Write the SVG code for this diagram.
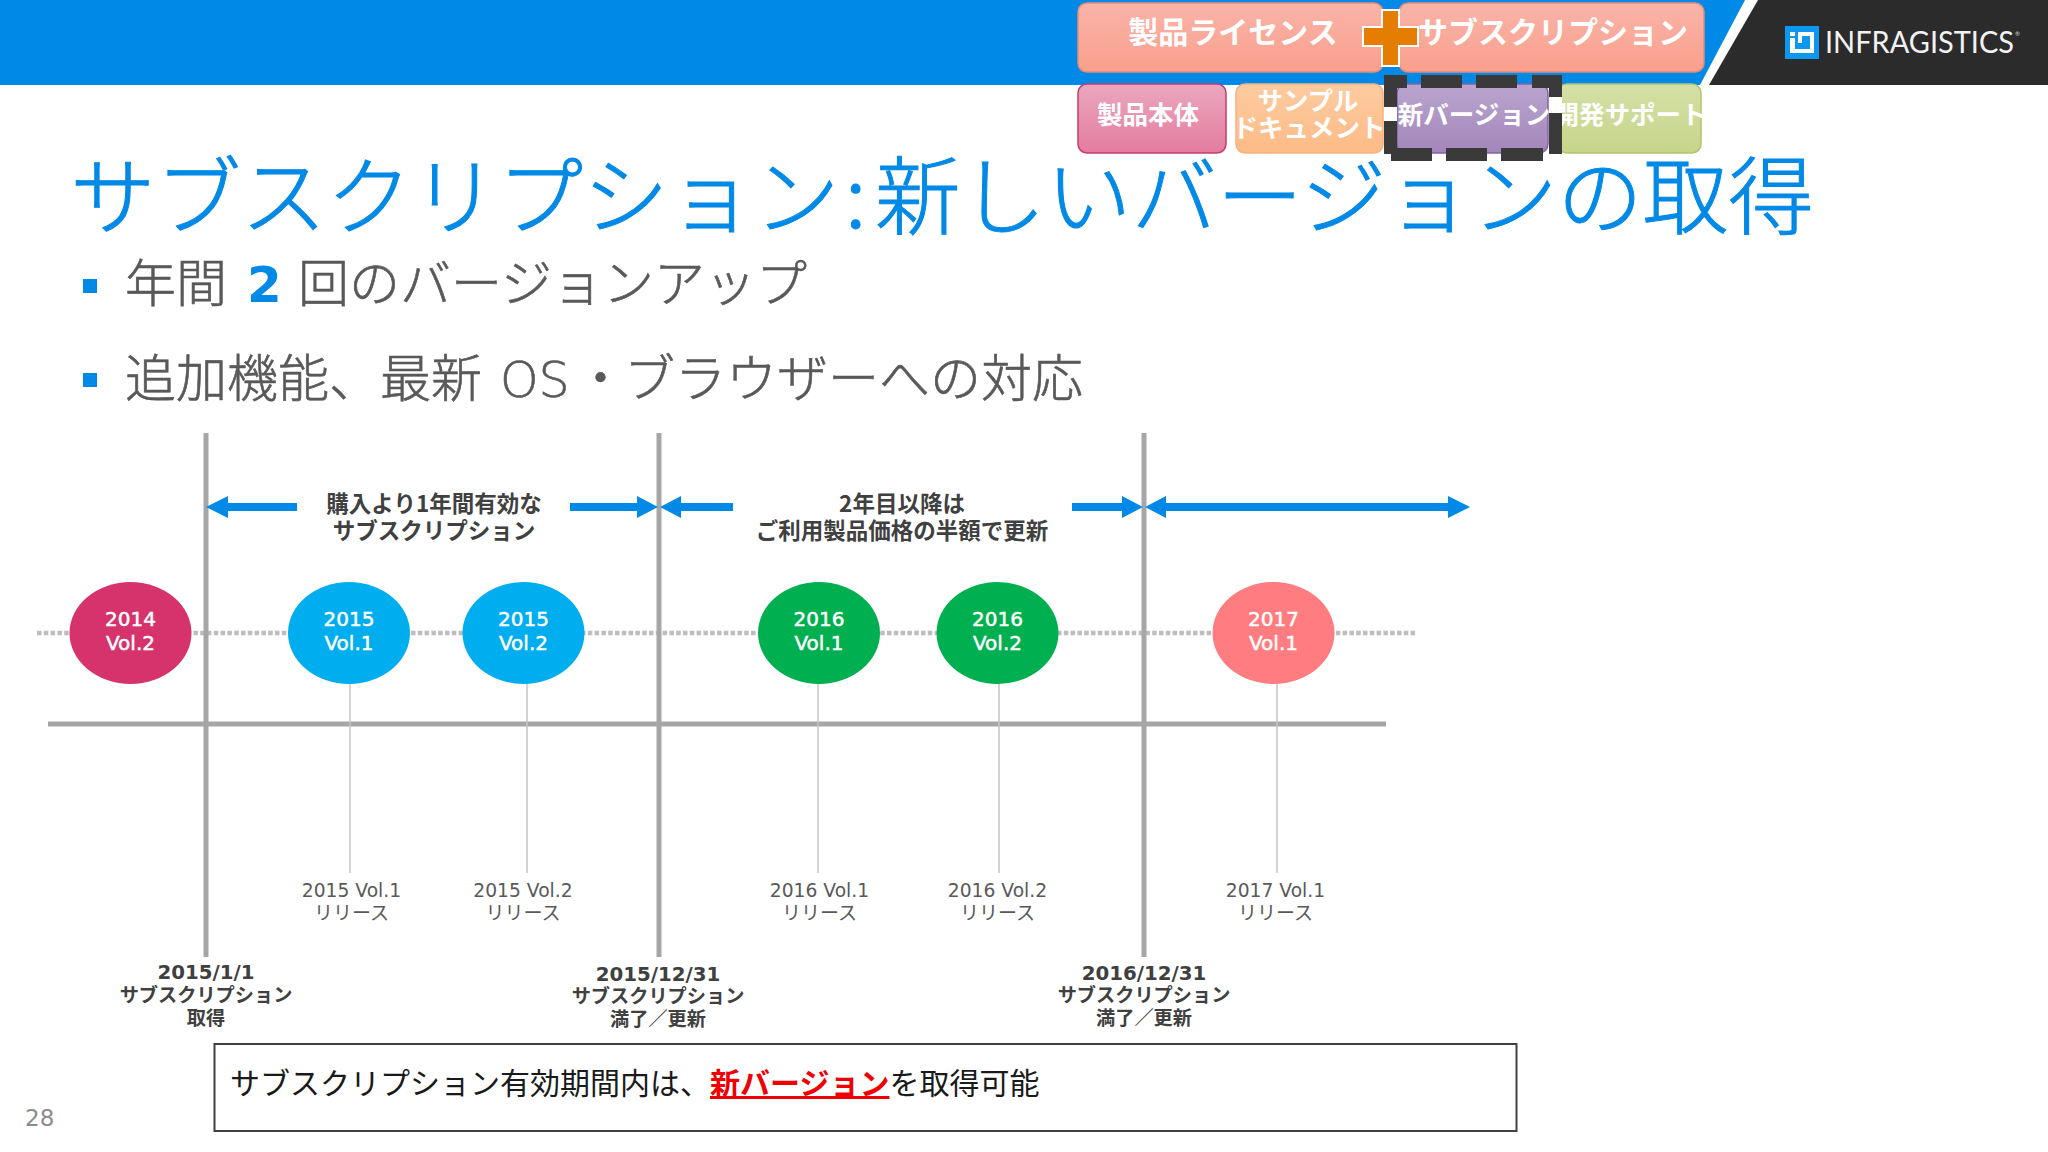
<svg xmlns="http://www.w3.org/2000/svg" width="2048" height="1152" viewBox="0 0 2048 1152">
<style>
.jp{font-family:"Noto Sans CJK JP","Noto Sans",sans-serif}
.lat{font-family:"DejaVu Sans","Noto Sans CJK JP",sans-serif}
.c{text-anchor:middle}
.w{fill:#fff;font-weight:700}
.box{stroke-width:1.5}
.dk{fill:#3a3a3a}
.gray{stroke:#a6a6a6;stroke-width:5;fill:none}
.thin{stroke:#c4c4c4;stroke-width:1.5;fill:none}
.arr{fill:#0089e6}
.el{font-size:20px;fill:#fff;stroke:#fff;stroke-width:.5}
.rel{font-size:18.7px;fill:#595959}
.relj{font-size:19px;fill:#595959}
.lab{font-size:22.5px;font-weight:700;fill:#404040}
.dt{font-size:19.8px;font-weight:700;fill:#404040}
.dj{font-size:19.2px;font-weight:700;fill:#404040}
.bul{fill:#0089e6}
.body{font-size:51px;fill:#595959;stroke:#595959;stroke-width:.6;font-weight:300}
</style>
<defs>
<linearGradient id="gS" x1="0" y1="0" x2="0" y2="1"><stop offset="0" stop-color="#f9b4a8"/><stop offset="1" stop-color="#fa9f8d"/></linearGradient>
<linearGradient id="gP" x1="0" y1="0" x2="0" y2="1"><stop offset="0" stop-color="#eba7bd"/><stop offset="1" stop-color="#e47c9f"/></linearGradient>
<linearGradient id="gO" x1="0" y1="0" x2="0" y2="1"><stop offset="0" stop-color="#fdcba0"/><stop offset="1" stop-color="#fdbb87"/></linearGradient>
<linearGradient id="gV" x1="0" y1="0" x2="0" y2="1"><stop offset="0" stop-color="#baa5cf"/><stop offset="1" stop-color="#a386bb"/></linearGradient>
<linearGradient id="gG" x1="0" y1="0" x2="0" y2="1"><stop offset="0" stop-color="#d5e0a7"/><stop offset="1" stop-color="#c7d589"/></linearGradient>
</defs>
<rect width="2048" height="1152" fill="#fff"/>

<g id="header">
<polygon points="0,0 1745,0 1700,85 0,85" fill="#0089e6"/>
<polygon points="1758,0 2048,0 2048,85 1709,85" fill="#2b2b2b"/>
<rect x="1785" y="26" width="34" height="33" fill="#0d98f0"/>
<rect x="1790" y="32" width="5" height="4" fill="#fff"/>
<rect x="1790" y="38" width="5" height="15" fill="#fff"/>
<rect x="1790" y="49" width="24" height="4" fill="#fff"/>
<rect x="1810" y="32" width="4" height="21" fill="#fff"/>
<rect x="1798" y="32" width="16" height="4" fill="#fff"/>
<rect x="1798" y="32" width="4" height="11" fill="#fff"/>
<text x="1825" y="53" font-family="Lato,'Open Sans',sans-serif" font-size="30" fill="#f2f2f2" textLength="189" lengthAdjust="spacingAndGlyphs">INFRAGISTICS</text>
<text x="2015" y="36" font-family="Lato,'Open Sans',sans-serif" font-size="6" fill="#d9d9d9">®</text>
</g>

<g id="box-license">
<rect class="box" x="1078" y="3" width="305" height="69" rx="9" fill="url(#gS)" stroke="#e58c79"/>
<text class="jp w c" x="1233" y="43" font-size="30">製品ライセンス</text>
</g>
<g id="box-subscription">
<rect class="box" x="1399" y="3" width="305" height="69" rx="9" fill="url(#gS)" stroke="#e58c79"/>
<text class="jp w c" x="1553" y="43" font-size="30">サブスクリプション</text>
</g>
<g id="box-product">
<rect class="box" x="1078" y="84" width="148" height="69" rx="9" fill="url(#gP)" stroke="#c43c70"/>
<text class="jp w c" x="1148" y="124" font-size="25.5">製品本体</text>
</g>
<g id="box-sample">
<rect class="box" x="1236" y="84" width="147" height="69" rx="9" fill="url(#gO)" stroke="#f6b27c"/>
<text class="jp w c" x="1308" y="110" font-size="25.5">サンプル</text>
<text class="jp w c" x="1309" y="137" font-size="25.5">ドキュメント</text>
</g>
<g id="box-support">
<rect class="box" x="1558" y="84" width="143" height="69" rx="9" fill="url(#gG)" stroke="#b3c36f"/>
<text class="jp w c" x="1630" y="124" font-size="25.5">開発サポート</text>
</g>
<g id="box-newversion">
<rect class="box" x="1397" y="84" width="151" height="69" rx="9" fill="url(#gV)" stroke="#8064a2"/>
<g>
<rect class="dk" x="1384" y="75" width="23" height="13"/>
<rect class="dk" x="1421" y="75" width="41" height="13"/>
<rect class="dk" x="1476" y="75" width="41" height="13"/>
<rect class="dk" x="1532" y="75" width="30" height="13"/>
<rect class="dk" x="1384" y="75" width="13" height="32"/>
<rect x="1384" y="107" width="13" height="14" fill="#fff"/>
<rect class="dk" x="1384" y="121" width="13" height="33"/>
<rect class="dk" x="1391" y="148" width="41" height="13"/>
<rect class="dk" x="1446" y="148" width="41" height="13"/>
<rect class="dk" x="1501" y="148" width="42" height="13"/>
<rect class="dk" x="1549" y="75" width="13" height="22"/>
<rect x="1549" y="97" width="13" height="16" fill="#fff"/>
<rect class="dk" x="1549" y="113" width="13" height="41"/>
</g>
<text class="jp w c" x="1474" y="124" font-size="25.5">新バージョン</text>
</g>
<g id="plus">
<polygon points="1382,10 1399,10 1399,27 1418,27 1418,46 1399,46 1399,66 1382,66 1382,46 1363,46 1363,27 1382,27" fill="#e47d00" stroke="#fff" stroke-width="2"/>
</g>

<g id="title">
<text class="jp" y="228" font-size="85.5" font-weight="300" fill="#0089e6" stroke="#0089e6" stroke-width="1"><tspan x="70">サブスクリプション</tspan><tspan x="845">:</tspan><tspan x="875">新しいバージョンの取得</tspan></text>
</g>
<g id="bullets">
<rect class="bul" x="83" y="279" width="14" height="14"/>
<text class="jp body" y="302"><tspan x="125">年間</tspan><tspan x="247" class="lat" fill="#0089e6" stroke="none" font-weight="700" font-size="50">2</tspan><tspan x="298">回のバージョンアップ</tspan></text>
<rect class="bul" x="83" y="373" width="14" height="14"/>
<text class="jp body" y="397"><tspan x="125">追加機能、最新</tspan><tspan x="500" class="lat" font-size="49">OS</tspan><tspan x="575">・</tspan><tspan x="624">ブラウザーへの対応</tspan></text>
</g>

<g id="connectors">
<line x1="37" y1="633" x2="1416" y2="633" stroke="#bdbdbd" stroke-width="4.5" stroke-dasharray="4.5 2.3"/>
<line class="gray" x1="48" y1="724" x2="1386" y2="724"/>
<line class="gray" x1="206" y1="433" x2="206" y2="957"/>
<line class="gray" x1="659" y1="433" x2="659" y2="957"/>
<line class="gray" x1="1144" y1="433" x2="1144" y2="957"/>
<line class="thin" x1="350" y1="683" x2="350" y2="873"/>
<line class="thin" x1="527" y1="683" x2="527" y2="873"/>
<line class="thin" x1="818" y1="683" x2="818" y2="873"/>
<line class="thin" x1="999" y1="683" x2="999" y2="873"/>
<line class="thin" x1="1277" y1="683" x2="1277" y2="873"/>
<polygon class="arr" points="206,507 228,496 228,503 297,503 297,511 228,511 228,518"/>
<polygon class="arr" points="658,507 637,496 637,503 570,503 570,511 637,511 637,518"/>
<polygon class="arr" points="660,507 681,496 681,503 733,503 733,511 681,511 681,518"/>
<polygon class="arr" points="1143,507 1122,496 1122,503 1072,503 1072,511 1122,511 1122,518"/>
<polygon class="arr" points="1145,507 1166,496 1166,503 1448,503 1448,496 1470,507 1448,518 1448,511 1166,511 1166,518"/>
</g>

<g id="label-year1">
<text class="jp lab c" x="434" y="512">購入より1年間有効な</text>
<text class="jp lab c" x="434" y="539">サブスクリプション</text>
</g>
<g id="label-year2">
<text class="jp lab c" x="902" y="512">2年目以降は</text>
<text class="jp lab c" x="902" y="539">ご利用製品価格の半額で更新</text>
</g>

<g id="v2014-2">
<ellipse cx="130.5" cy="633" rx="61" ry="51" fill="#d6336c"/>
<text class="lat el c" x="130.5" y="626">2014</text><text class="lat el c" x="130.5" y="650">Vol.2</text>
</g>
<g id="v2015-1">
<ellipse cx="349" cy="633" rx="61" ry="51" fill="#00adef"/>
<text class="lat el c" x="349" y="626">2015</text><text class="lat el c" x="349" y="650">Vol.1</text>
</g>
<g id="v2015-2">
<ellipse cx="523.5" cy="633" rx="61" ry="51" fill="#00adef"/>
<text class="lat el c" x="523.5" y="626">2015</text><text class="lat el c" x="523.5" y="650">Vol.2</text>
</g>
<g id="v2016-1">
<ellipse cx="819" cy="633" rx="61" ry="51" fill="#00b050"/>
<text class="lat el c" x="819" y="626">2016</text><text class="lat el c" x="819" y="650">Vol.1</text>
</g>
<g id="v2016-2">
<ellipse cx="997.5" cy="633" rx="61" ry="51" fill="#00b050"/>
<text class="lat el c" x="997.5" y="626">2016</text><text class="lat el c" x="997.5" y="650">Vol.2</text>
</g>
<g id="v2017-1">
<ellipse cx="1273.5" cy="633" rx="61" ry="51" fill="#ff7c80"/>
<text class="lat el c" x="1273.5" y="626">2017</text><text class="lat el c" x="1273.5" y="650">Vol.1</text>
</g>

<g id="release-labels">
<text class="lat rel c" x="351.5" y="897">2015 Vol.1</text><text class="jp relj c" x="351.5" y="920">リリース</text>
<text class="lat rel c" x="523" y="897">2015 Vol.2</text><text class="jp relj c" x="523" y="920">リリース</text>
<text class="lat rel c" x="819.5" y="897">2016 Vol.1</text><text class="jp relj c" x="819.5" y="920">リリース</text>
<text class="lat rel c" x="997.5" y="897">2016 Vol.2</text><text class="jp relj c" x="997.5" y="920">リリース</text>
<text class="lat rel c" x="1275.5" y="897">2017 Vol.1</text><text class="jp relj c" x="1275.5" y="920">リリース</text>
</g>
<g id="date-labels">
<text class="lat dt c" x="206" y="979">2015/1/1</text><text class="jp dj c" x="206" y="1002">サブスクリプション</text><text class="jp dj c" x="206" y="1025">取得</text>
<text class="lat dt c" x="658" y="981">2015/12/31</text><text class="jp dj c" x="658" y="1003">サブスクリプション</text><text class="jp dj c" x="658" y="1026">満了／更新</text>
<text class="lat dt c" x="1144" y="980">2016/12/31</text><text class="jp dj c" x="1144" y="1002">サブスクリプション</text><text class="jp dj c" x="1144" y="1025">満了／更新</text>
</g>

<g id="note">
<rect x="214.5" y="1044" width="1302" height="87" fill="#fff" stroke="#404040" stroke-width="2"/>
<text class="jp" x="230" y="1094" font-size="30" fill="#1a1a1a">サブスクリプション有効期間内は、<tspan fill="#f00000" font-weight="700" text-decoration="underline">新バージョン</tspan>を取得可能</text>
</g>
<text id="page" class="lat" x="25" y="1126" font-size="23" fill="#8c8c8c">28</text>
</svg>
